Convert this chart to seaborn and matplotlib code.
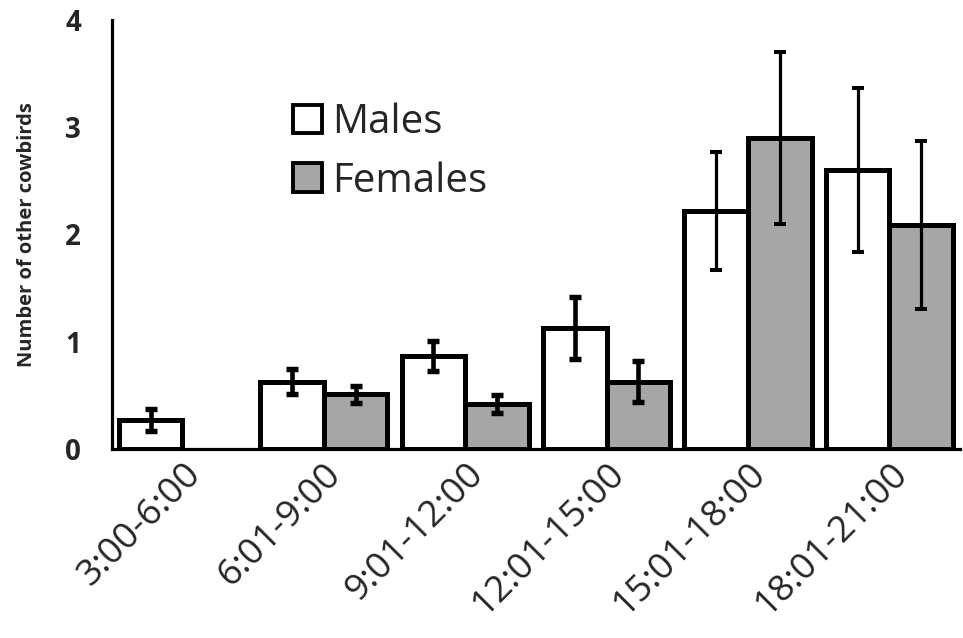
import numpy as np
import pandas as pd
import matplotlib
matplotlib.use("Agg")
import matplotlib.pyplot as plt
import seaborn as sns

categories = ["3:00-6:00", "6:01-9:00", "9:01-12:00", "12:01-15:00", "15:01-18:00", "18:01-21:00"]
males = [0.27, 0.63, 0.87, 1.13, 2.22, 2.60]
males_err = [0.10, 0.12, 0.14, 0.29, 0.55, 0.76]
females = [np.nan, 0.51, 0.42, 0.63, 2.90, 2.09]
females_err = [np.nan, 0.08, 0.08, 0.19, 0.80, 0.78]
yticks = [0, 1, 2, 3, 4]

sns.set_theme(style="white")
plt.rcParams["font.family"] = ["Open Sans", "DejaVu Sans"]

df = pd.DataFrame({
    "time": categories * 2,
    "value": males + females,
    "err": males_err + females_err,
    "sex": ["Males"] * len(categories) + ["Females"] * len(categories),
}).dropna()

fig = plt.figure(figsize=(9.63, 6.38), dpi=100)
ax = fig.add_axes([0.116, 0.296, 0.881, 0.673])

sns.barplot(data=df, x="time", y="value", hue="sex", order=categories,
            hue_order=["Males", "Females"],
            palette={"Males": "white", "Females": "#a6a6a6"},
            edgecolor="black", linewidth=3.6, width=0.9, errorbar=None,
            saturation=1, ax=ax)

errs = {"Males": males_err, "Females": females_err}
for cont, sex in zip(ax.containers, ["Males", "Females"]):
    for p in cont.patches:
        h = p.get_height()
        if not np.isfinite(h):
            continue
        xc = p.get_x() + p.get_width() / 2
        idx = int(round(xc))
        e = errs[sex][idx]
        lw = 3.3 if e < 0.35 else 2.3
        ax.errorbar(xc, h, yerr=e, fmt="none", ecolor="black",
                    elinewidth=lw, capsize=4.5, capthick=lw + 0.6, zorder=5)

ax.set_ylim(0, 4)
ax.set_xlim(-0.5, 5.5)
ax.set_yticks(yticks)
ax.set_yticklabels([str(t) for t in yticks], fontsize=20, fontweight="bold")
ax.set_xticks(range(len(categories)))
ax.set_xticklabels(categories, rotation=45, ha="right", rotation_mode="anchor",
                   fontsize=26.5)
ax.tick_params(axis="both", length=0)
ax.tick_params(axis="y", pad=22)
ax.tick_params(axis="x", pad=5)
ax.set_xlabel("")
ax.set_ylabel("Number of other cowbirds", fontsize=14.5, fontweight="bold", labelpad=20)

for s in ["top", "right"]:
    ax.spines[s].set_visible(False)
for s in ["left", "bottom"]:
    ax.spines[s].set_color("black")
    ax.spines[s].set_linewidth(2.3)

leg = ax.legend(loc="upper left", bbox_to_anchor=(0.195, 0.845), frameon=False,
                fontsize=29, handlelength=0.72, handleheight=0.72,
                handletextpad=0.25, labelspacing=0.45, borderaxespad=0)
for h in leg.legend_handles:
    h.set_linewidth(2.8)
    h.set_edgecolor("black")

fig.savefig("out.png", dpi=100)
